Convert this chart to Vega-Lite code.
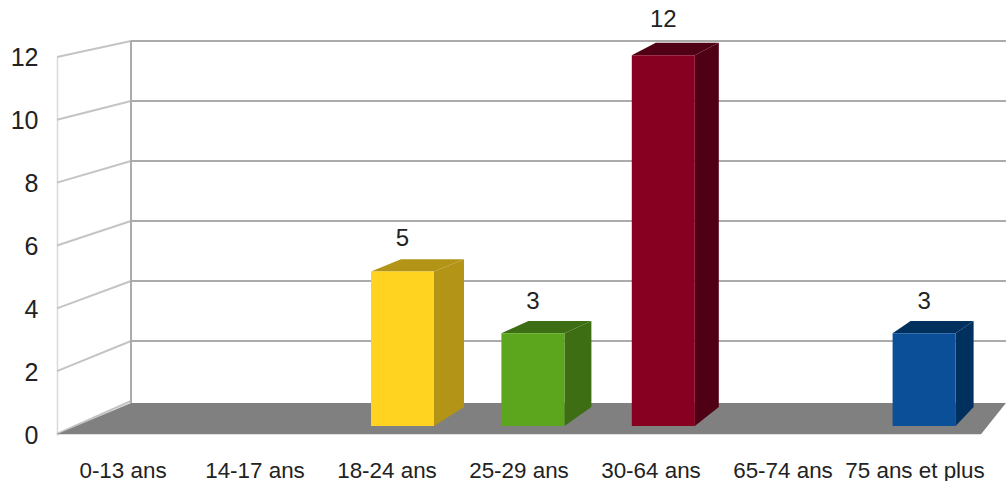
{
"$schema":"https://vega.github.io/schema/vega-lite/v6.json",
"autosize":{"type":"none"},
"width":924,"height":393,
"padding":{"left":57,"top":41,"right":25,"bottom":47},
"background":"white",
"config":{"view":{"stroke":null},"font":"Liberation Sans"},
"data":{"values":[
{"tranche":"0-13 ans","rang":0,"n":0},
{"tranche":"14-17 ans","rang":1,"n":0},
{"tranche":"18-24 ans","rang":2,"n":5},
{"tranche":"25-29 ans","rang":3,"n":3},
{"tranche":"30-64 ans","rang":4,"n":12},
{"tranche":"65-74 ans","rang":5,"n":0},
{"tranche":"75 ans et plus","rang":6,"n":3}
]},
"resolve":{"scale":{"x":"independent","y":"independent"}},
"layer":[
{"mark":{"type":"bar","opacity":0},
 "encoding":{
  "x":{"field":"tranche","type":"nominal","sort":null,
   "scale":{"paddingInner":0,"paddingOuter":0},
   "axis":{"title":null,"domain":false,"ticks":false,"grid":false,"labelAngle":0,"labelFontSize":22.4,"labelColor":"#222222","labelPadding":25,"labelFont":"Liberation Sans","labelOverlap":false}},
  "y":{"field":"n","type":"quantitative",
   "scale":{"domain":[0,12],"range":[394,16],"nice":false},
   "axis":{"title":null,"values":[0,2,4,6,8,10,12],"ticks":false,"grid":false,"domain":true,"domainColor":"#d9d9d9","domainWidth":1.5,"labelFontSize":25,"labelColor":"#222222","labelPadding":19,"labelFont":"Liberation Sans"}}
 }},
{"encoding":{
  "x":{"field":"ex","type":"quantitative","scale":{"domain":[-0.5,6.5],"nice":false,"zero":false},"axis":null},
  "y":{"field":"ey","type":"quantitative","scale":{"domain":[-0.259,12.46],"nice":false,"zero":false},"axis":null},
  "color":{"field":"key","type":"nominal","legend":null,"scale":{
   "domain":["arriere","lateral","sol","18-24 ans","25-29 ans","30-64 ans","75 ans et plus","18-24 ans sombre","25-29 ans sombre","30-64 ans sombre","75 ans et plus sombre"],
   "range":["#ababab","#c4c4c4","#808080","#ffd320","#5ca61d","#870022","#0a4f98","#b39416","#3d6e14","#4f0015","#00305e"]}}
 },
 "layer":[
 {"data":{"values":[{"v":2},{"v":4},{"v":6},{"v":8},{"v":10},{"v":12}]},
  "transform":[
   {"calculate":"0.0606","as":"ex"},{"calculate":"6.689","as":"ex2"},
   {"calculate":"(25+30*datum.v)/30.9","as":"ey"},{"calculate":"datum.ey","as":"ey2"},
   {"calculate":"'arriere'","as":"key"}],
  "mark":{"type":"rule","strokeWidth":2},
  "encoding":{"x2":{"field":"ex2"},"y2":{"field":"ey2"}}},
 {"data":{"values":[{"v":0},{"v":2},{"v":4},{"v":6},{"v":8},{"v":10},{"v":12}]},
  "transform":[
   {"calculate":"-0.5","as":"ex"},{"calculate":"0.0606","as":"ex2"},
   {"calculate":"(-8+31.42*datum.v)/30.9","as":"ey"},{"calculate":"(25+30*datum.v)/30.9","as":"ey2"},
   {"calculate":"'lateral'","as":"key"}],
  "mark":{"type":"rule","strokeWidth":2},
  "encoding":{"x2":{"field":"ex2"},"y2":{"field":"ey2"}}},
 {"data":{"values":[{"v":12}]},
  "transform":[
   {"calculate":"0.0606","as":"ex"},
   {"calculate":"(25+30*datum.v)/30.9","as":"ey"},{"calculate":"0.74","as":"ey2"},
   {"calculate":"'arriere'","as":"key"}],
  "mark":{"type":"rule","strokeWidth":2},
  "encoding":{"y2":{"field":"ey2"}}},
 {"data":{"values":[{"coin":0},{"coin":1},{"coin":2},{"coin":3}]},
  "transform":[
   {"calculate":"[-0.5,0.0606,6.5,6.689][datum.coin]","as":"ex"},
   {"calculate":"[-0.27,0.744,0.744,0.744][datum.coin]","as":"ey"},
   {"calculate":"[-0.27,-0.27,-0.27,0.744][datum.coin]","as":"ey2"},
   {"calculate":"'sol'","as":"key"}],
  "mark":{"type":"area"},
  "encoding":{"y2":{"field":"ey2"}}},
 {"transform":[
   {"filter":"datum.n>0"},
   {"calculate":"[0,1]","as":"d"},{"flatten":["d"]},
   {"calculate":"(130.4*datum.rang+50.2+datum.d*(36-3*datum.rang))/132","as":"ex"},
   {"calculate":"datum.n+datum.d*0.4","as":"ey"},
   {"calculate":"datum.d*0.615","as":"ey2"},
   {"calculate":"datum.tranche+' sombre'","as":"key"}],
  "mark":{"type":"area"},
  "encoding":{"y2":{"field":"ey2"},"detail":{"field":"tranche"}}},
 {"transform":[
   {"filter":"datum.n>0"},
   {"calculate":"[0,1,2,3]","as":"c"},{"flatten":["c"]},
   {"calculate":"(130.4*datum.rang-12.8+[0,36-3*datum.rang,63,99-3*datum.rang][datum.c])/132","as":"ex"},
   {"calculate":"datum.n+(datum.c>0?0.4:0)","as":"ey"},
   {"calculate":"datum.n+(datum.c==3?0.4:0)","as":"ey2"},
   {"calculate":"datum.tranche+' sombre'","as":"key"}],
  "mark":{"type":"area"},
  "encoding":{"y2":{"field":"ey2"},"detail":{"field":"tranche"}}},
 {"transform":[
   {"filter":"datum.n>0"},
   {"calculate":"(130.4*datum.rang-12.8)/132","as":"ex"},
   {"calculate":"(130.4*datum.rang+50.2)/132","as":"ex2"},
   {"calculate":"datum.n","as":"ey"},{"calculate":"0","as":"ey2"},
   {"calculate":"datum.tranche","as":"key"}],
  "mark":{"type":"rect"},
  "encoding":{"x2":{"field":"ex2"},"y2":{"field":"ey2"}}},
 {"transform":[
   {"filter":"datum.n>0"},
   {"calculate":"(130.4*datum.rang+18.7)/132","as":"ex"},
   {"calculate":"datum.n*1.0125","as":"ey"}],
  "mark":{"type":"text","fontSize":24,"dy":-30.5,"baseline":"middle","align":"center","font":"Liberation Sans"},
  "encoding":{"text":{"field":"n","type":"quantitative"},"color":{"value":"#222222"}}}
 ]}
]}
